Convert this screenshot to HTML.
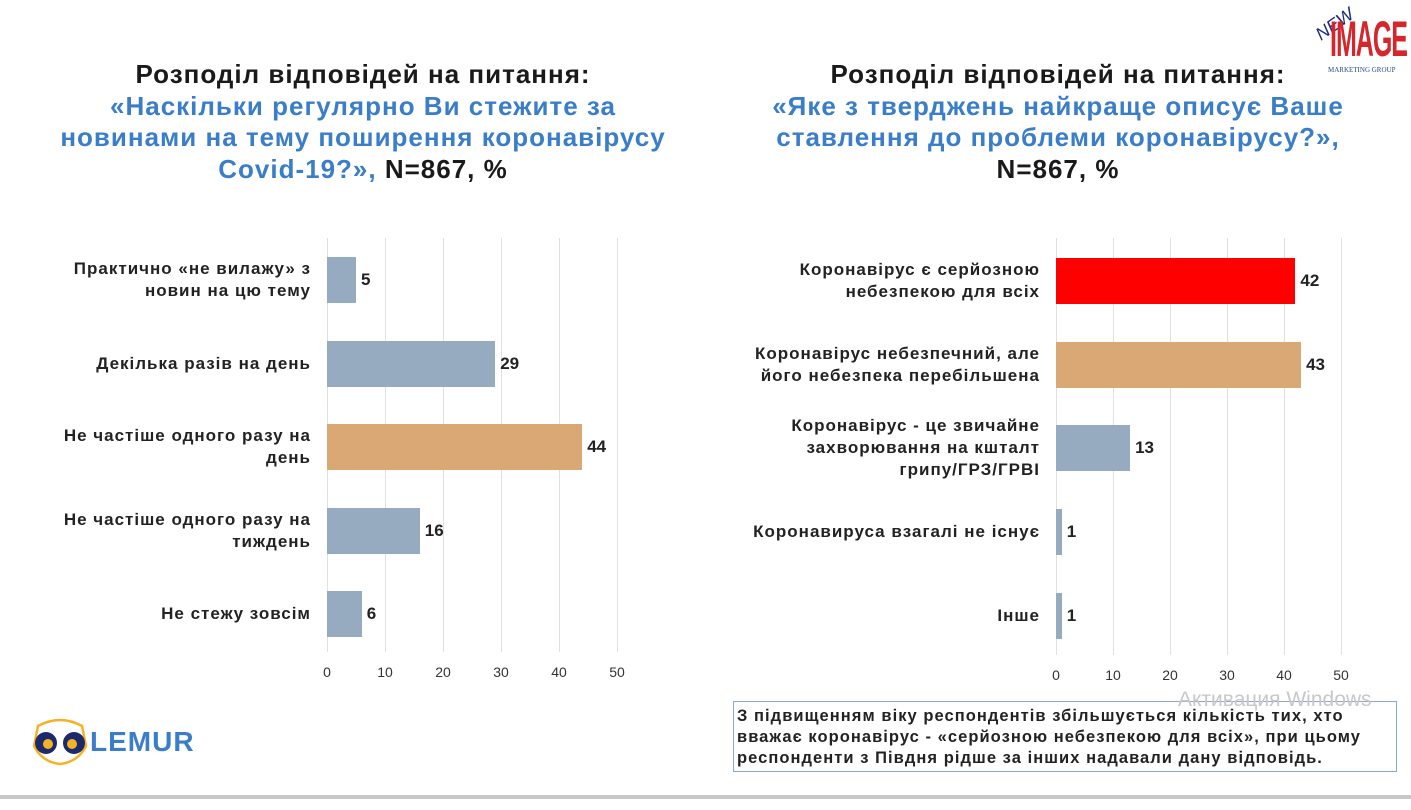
<!DOCTYPE html>
<html><head><meta charset="utf-8"><style>
body{margin:0;width:1411px;height:810px;background:#fff;position:relative;overflow:hidden;font-family:"Liberation Sans","DejaVu Sans",sans-serif}
.title{position:absolute;text-align:center;font-weight:bold;font-size:26px;line-height:31.5px;color:#1a1a1a;letter-spacing:1px}
.b{color:#3a7dc9}
.lbl{position:absolute;font-weight:bold;font-size:17px;line-height:22px;color:#222;text-align:right;letter-spacing:1px;white-space:nowrap}
.val{position:absolute;font-weight:bold;font-size:17px;color:#222}
.tick{position:absolute;font-size:14px;color:#333;transform:translateX(-50%)}
.grid{position:absolute;width:1px;background:#e0e0e0}
.bar{position:absolute}
</style></head><body>
<div class="title" style="left:20px;top:59px;width:686px">Розподіл відповідей на питання:<br><span class="b">«Наскільки регулярно Ви стежите за<br>новинами на тему поширення коронавірусу<br>Covid-19?»,</span> N=867, %</div>
<div class="title" style="left:710px;top:59px;width:696px">Розподіл відповідей на питання:<br><span class="b">«Яке з тверджень найкраще описує Ваше<br>ставлення до проблеми коронавірусу?»,</span><br>N=867, %</div>
<div style="position:absolute;left:1310px;top:0px;width:101px;height:78px;overflow:hidden">
<div style="position:absolute;left:4px;top:14px;color:#1c2a80;font-style:italic;font-size:18px;transform:rotate(-35deg)">NEW</div>
<div style="position:absolute;left:20px;top:14px;color:#d6262b;font-weight:bold;font-size:50px;line-height:50px;letter-spacing:-2px;transform:scaleX(0.5);transform-origin:left">IMAGE</div>
<div style="position:absolute;left:18px;top:66px;color:#2a4a8a;font-size:7px;font-family:'Liberation Serif',serif">MARKETING GROUP</div></div>
<div style="position:absolute;left:30px;top:718px;width:170px;height:45px">
<svg width="60" height="48" style="position:absolute;left:0;top:0"><path d="M8 8 Q30 -4 52 8 L56 28 Q48 44 30 46 Q12 44 4 28Z" fill="none" stroke="#f5b324" stroke-width="2.5"/><circle cx="16" cy="25" r="11" fill="#1c2a6b"/><circle cx="44" cy="25" r="11" fill="#1c2a6b"/><circle cx="18" cy="26" r="5" fill="#f5b324"/><circle cx="42" cy="26" r="5" fill="#f5b324"/></svg>
<div style="position:absolute;left:60px;top:8px;font-weight:bold;font-size:28px;color:#3a7dc9;letter-spacing:1px">LEMUR</div></div>
<div style="position:absolute;left:733px;top:701px;width:664px;height:71px;border:1px solid #8aa6d6;box-sizing:border-box;padding:4px 3px;font-weight:bold;font-size:16.5px;line-height:21px;color:#222;letter-spacing:1.05px;white-space:nowrap">З підвищенням віку респондентів збільшується кількість тих, хто<br>вважає коронавірус - «серйозною небезпекою для всіх», при цьому<br>респонденти з Півдня рідше за інших надавали дану відповідь.</div>
<div style="position:absolute;left:1178px;top:688px;font-size:21px;color:#c8c8c8">Активация Windows</div>
<div style="position:absolute;left:0;top:795px;width:1411px;height:4px;background:#c8c8c8"></div>
<div id="charts"></div>
<script>
const leftCats=["Практично «не вилажу» з<br>новин на цю тему","Декілька разів на день","Не частіше одного разу на<br>день","Не частіше одного разу на<br>тиждень","Не стежу зовсім"];
const leftVals=[5,29,44,16,6];
const leftColors=["#97abc0","#97abc0","#d9a874","#97abc0","#97abc0"];
const rightCats=["Коронавірус є серйозною<br>небезпекою для всіх","Коронавірус небезпечний, але<br>його небезпека перебільшена","Коронавірус - це звичайне<br>захворювання на кшталт<br>грипу/ГРЗ/ГРВІ","Коронавируса взагалі не існує","Інше"];
const rightVals=[42,43,13,1,1];
const rightColors=["#ff0000","#d9a874","#97abc0","#97abc0","#97abc0"];
const ticks=[0,10,20,30,40,50];
const root=document.getElementById('charts');
function chart(name,cats,vals,colors,x0,ppu,top,bottom,rowTop,rowStep,lblRight,tickY){
  const x=v=>x0+v*ppu;
  ticks.forEach(t=>{
    const g=document.createElement('div');g.className='grid';
    
    
    g.style.left=x(t)+'px';g.style.top=top+'px';g.style.height=(bottom-top)+'px';root.appendChild(g);
    const l=document.createElement('div');l.className='tick';
    
    
    l.style.left=x(t)+'px';l.style.top=tickY+'px';l.textContent=t;root.appendChild(l);
  });
  vals.forEach((v,i)=>{
    const cy=rowTop+i*rowStep;
    const b=document.createElement('div');b.className='bar';
    
    
    b.style.left=x0+'px';b.style.top=(cy-23)+'px';b.style.height='46px';b.style.width=(v*ppu)+'px';b.style.background=colors[i];root.appendChild(b);
    const t=document.createElement('div');t.className='val';
    
    
    t.style.left=(x(v)+5)+'px';t.style.top=(cy-10)+'px';t.textContent=v;root.appendChild(t);
    const c=document.createElement('div');c.className='lbl';
    
    
    c.innerHTML=cats[i];root.appendChild(c);
    const n=cats[i].split('<br>').length;
    c.style.right=(1411-lblRight)+'px';c.style.top=(cy-n*11)+'px';
  });
}
chart('left',leftCats,leftVals,leftColors,327,5.8,238,652,280,83.5,311,664);
chart('right',rightCats,rightVals,rightColors,1056,5.7,238,655,281,83.7,1040,667);
</script>
</body></html>
